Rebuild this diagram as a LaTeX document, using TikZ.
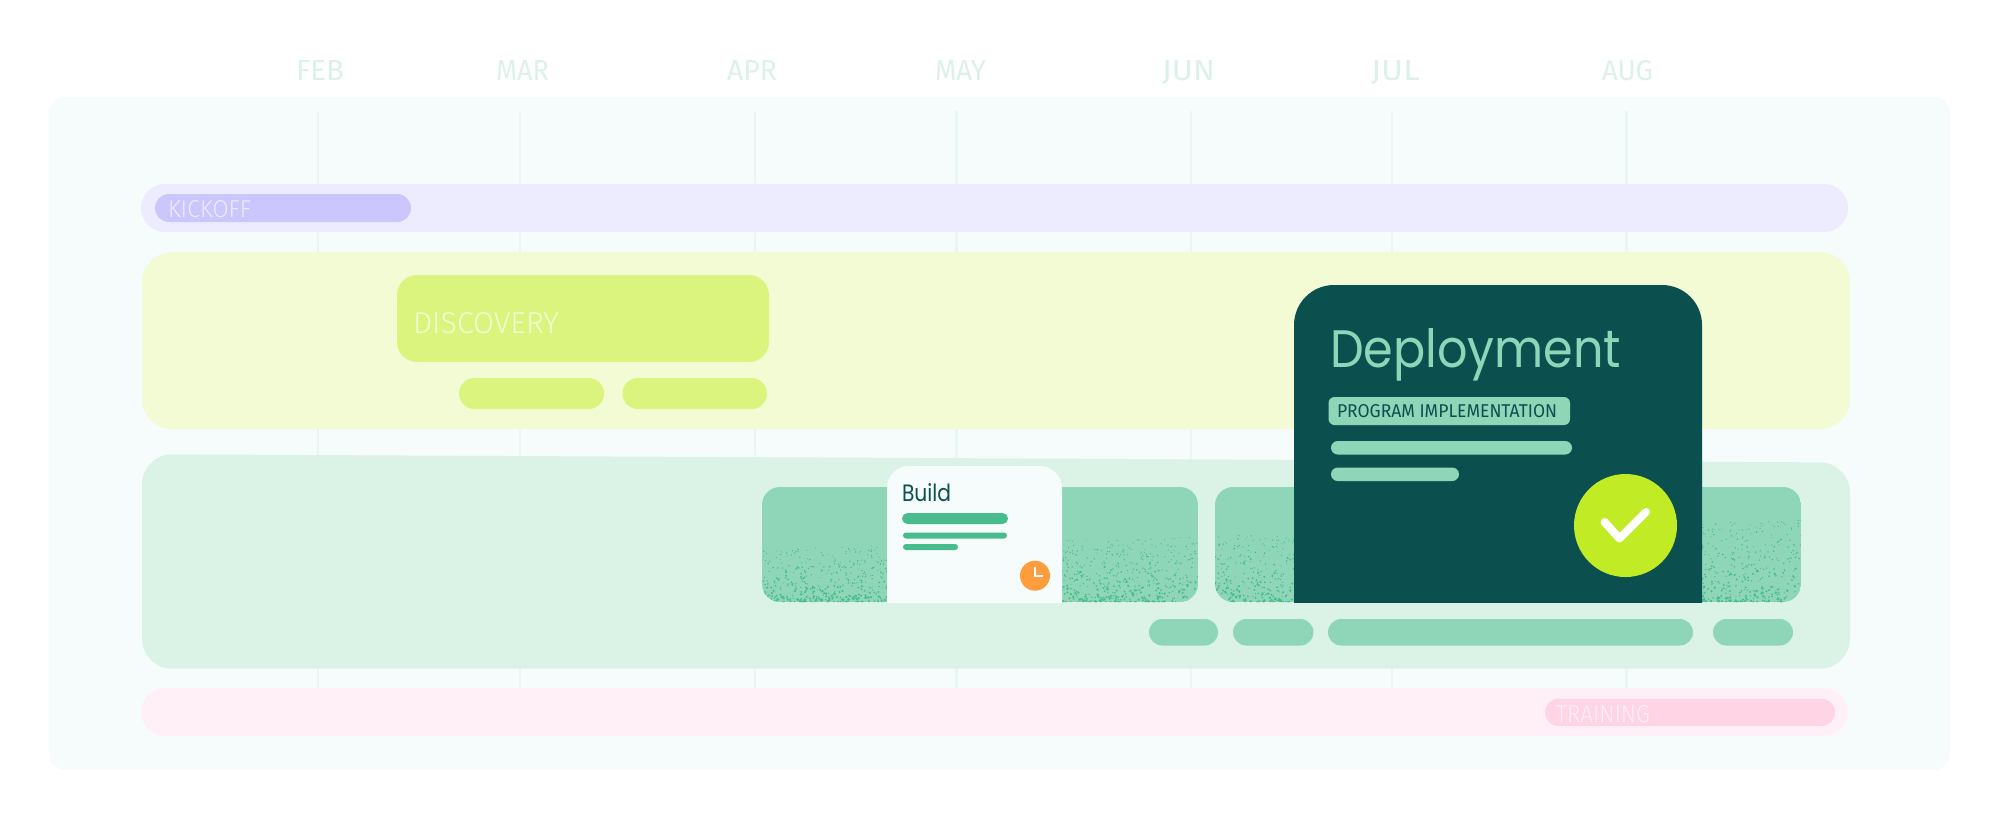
\documentclass[tikz,border=0pt]{standalone}
\usepackage{graphicx}
\usepackage{fontspec}
\setmainfont{Fira Sans}
\newfontfamily\thinlabel{Fira Sans Light}
\newfontfamily\titlefont{Poppins}
\definecolor{panelbg}{HTML}{F6FCFC}
\definecolor{gridc}{HTML}{EAF6F4}
\definecolor{monthc}{HTML}{DCF2E9}
\definecolor{kickband}{HTML}{EDEBFE}
\definecolor{kickpill}{HTML}{CBC6FC}
\definecolor{discband}{HTML}{F2FBD3}
\definecolor{discpill}{HTML}{DAF47E}
\definecolor{buildband}{HTML}{DBF2E7}
\definecolor{buildbar}{HTML}{8FD6B8}
\definecolor{speck}{HTML}{48BC8D}
\definecolor{darkcard}{HTML}{0B4F4E}
\definecolor{limec}{HTML}{C1EB25}
\definecolor{orangec}{HTML}{FF9C3E}
\definecolor{pinkband}{HTML}{FFF0F7}
\definecolor{pinkpill}{HTML}{FFD5E6}
\newcommand{\fitbox}[3]{\resizebox{\dimexpr #1pt/2\relax}{\dimexpr #2pt/2\relax}{#3}}
\tikzset{
  txt/.style={anchor=base west,inner sep=0pt,outer sep=0pt},
  monthlabel/.style={txt,text=monthc,font=\rmfamily},
  griddiv/.style={draw=gridc,line width=1.2pt},
}
\newcommand{\rrect}[6]{\fill[#1,rounded corners=#6*0.5pt] (#2,#3) rectangle (#4,#5);}
\newcommand{\specks}[5]{% xmin, xmax, count, colour, seed
  \pgfmathsetseed{#5}
  \foreach \i in {1,...,#3}{
    \pgfmathsetmacro\px{#1+(#2-#1)*rnd}
    \pgfmathsetmacro\ph{53+0.028*(\px-762)}
    \pgfmathsetmacro\pt{rnd}
    \pgfmathsetmacro\py{602-\ph*pow(\pt,1.7)}
    \pgfmathsetmacro\pr{0.45+(1-\pt)*0.95*rnd+0.35*rnd}
    \fill[#4] (\px,\py) circle[radius=\pr];
  }
}
\begin{document}
\begin{tikzpicture}[x=0.5pt,y=-0.5pt]
\useasboundingbox (0,0) rectangle (2000,816);
\fill[white] (0,0) rectangle (2000,816);
\rrect{panelbg}{49}{97}{1950}{769.5}{16}
% grid
\foreach \gx in {318,520,755,956.5,1191,1392,1626.5}{
  \draw[griddiv] (\gx,111) -- (\gx,690);
}
% months
\node (feb) [monthlabel] at (296,80) {\fitbox{48}{20}{FEB}};
\node (mar) [monthlabel] at (496,80) {\fitbox{53}{20}{MAR}};
\node (apr) [monthlabel] at (727,80) {\fitbox{50}{20}{APR}};
\node (may) [monthlabel] at (935,80) {\fitbox{51}{20}{MAY}};
\node (jun) [monthlabel] at (1162,80) {\fitbox{53}{20}{JUN}};
\node (jul) [monthlabel] at (1371,80) {\fitbox{49}{20}{JUL}};
\node (aug) [monthlabel] at (1602,80) {\fitbox{51}{20}{AUG}};
% kickoff
\rrect{kickband}{141}{184}{1848}{232}{24}
\rrect{kickpill}{155}{194}{411}{222}{14}
\node (kickoff) [txt,text=kickband,font=\thinlabel] at (168,217.5) {\fitbox{83}{17}{KICKOFF}};
% discovery
\rrect{discband}{142}{252}{1850}{429}{30}
\rrect{discpill}{397}{275}{769}{362}{20}
\rrect{discpill}{459}{378}{604}{409}{15.5}
\rrect{discpill}{622.5}{378}{767}{409}{15.5}
\node (discovery) [txt,text=discband,font=\thinlabel] at (413,333) {\fitbox{146}{21}{DISCOVERY}};
% build band
\fill[buildband,rounded corners=15pt] (142,454.2) -- (1850,462.5) -- (1850,668.7) -- (142,668.7) -- cycle;
\begin{scope}
  \clip[rounded corners=9pt] (762,487) rectangle (1198,602);
  \fill[buildbar] (762,487) rectangle (1198,602);
  \specks{762}{890}{430}{speck}{11}
  \specks{1060}{1198}{470}{speck}{23}
\end{scope}
\begin{scope}
  \clip[rounded corners=9pt] (1215,487) rectangle (1801,602);
  \fill[buildbar] (1215,487) rectangle (1801,602);
  \specks{1215}{1297}{280}{speck}{37}
  \specks{1700}{1801}{350}{speck}{41}
\end{scope}
\rrect{buildbar}{1149}{619}{1218}{645.5}{13.25}
\rrect{buildbar}{1233}{619}{1313.5}{645.5}{13.25}
\rrect{buildbar}{1328}{619}{1693}{645.5}{13.25}
\rrect{buildbar}{1713}{619}{1793}{645.5}{13.25}
% build card
\begin{scope}
  \clip (880,460) rectangle (1070,602);
  \fill[panelbg,rounded corners=11pt] (887,640) -- (887,466) -- (1062,466) -- (1062,640) -- cycle;
\end{scope}
\node (build) [txt,text=darkcard,font=\titlefont] at (902,501) {\fitbox{49}{18}{Build}};
\rrect{speck}{902}{513}{1008}{524}{5.5}
\rrect{speck}{903}{532.5}{1007}{538.5}{3}
\rrect{speck}{903}{544}{958}{550}{3}
\fill[orangec] (1035,575.7) circle[radius=15];
\draw[panelbg,line width=1pt] (1035,566.5) -- (1035,576) -- (1043,576);
% deployment card
\begin{scope}
  \clip (1280,280) rectangle (1720,602);
  \fill[darkcard,rounded corners=20pt] (1294,660) -- (1294,285) -- (1702,285) -- (1702,660) -- cycle;
\end{scope}
\node (deploy) [txt,text=buildbar,font=\titlefont] at (1330,367) {\fitbox{291}{39}{Deployment}};
\rrect{buildbar}{1328.5}{397}{1570}{425}{6}
\node (prog) [txt,text=darkcard,font=\rmfamily] at (1337,417) {\fitbox{220}{13}{PROGRAM IMPLEMENTATION}};
\rrect{buildbar}{1331}{441}{1572}{454.5}{6.75}
\rrect{buildbar}{1331}{467.5}{1459}{481}{6.75}
\fill[limec] (1625.5,525.5) circle[radius=51.5];
\draw[white,line width=4pt,line cap=round,line join=round] (1604.5,522) -- (1619.5,538.5) -- (1646,512);
% training
\rrect{pinkband}{141}{688}{1848}{736}{24}
\rrect{pinkpill}{1545}{698.7}{1835}{726}{13.6}
\node (training) [txt,text=pinkband,font=\thinlabel] at (1556,722) {\fitbox{94}{17}{TRAINING}};
\end{tikzpicture}
\end{document}
